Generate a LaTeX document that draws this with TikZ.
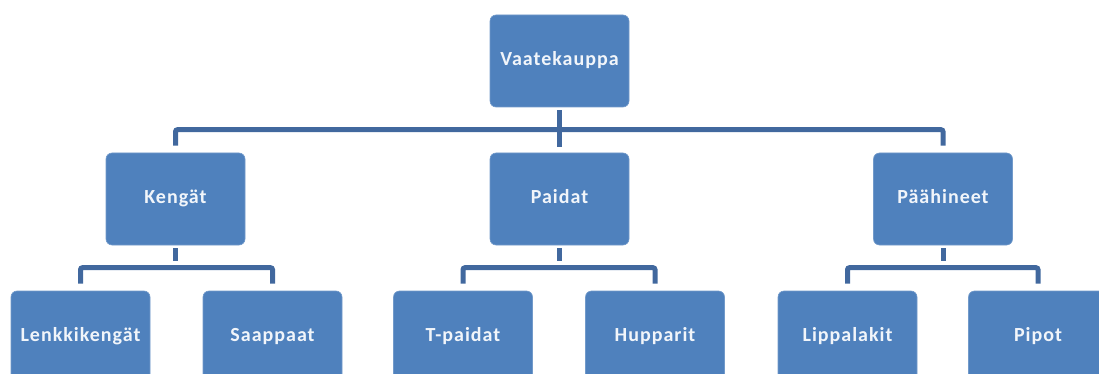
\documentclass[tikz,border=0pt]{standalone}
\usepackage{fontspec}
\setmainfont{Carlito}
\newfontfamily\boxfont[LetterSpace=5]{Carlito Bold}
\definecolor{boxblue}{RGB}{79,129,189}
\definecolor{lineblue}{RGB}{65,104,158}
\begin{document}
\begin{tikzpicture}[x=1pt,y=-1pt,
	box/.style={fill=boxblue,draw=boxblue!80!white,line width=0.6pt,rounded corners=6pt,
		minimum width=139pt,minimum height=92pt,text=white!92!boxblue,
		font=\boxfont\fontsize{20}{24}\selectfont,inner sep=0pt,text height=14pt,text depth=5pt},
	conn/.style={draw=lineblue,line width=5pt,rounded corners=2pt,shorten <=7pt,shorten >=7pt}]
		\useasboundingbox (0,0) rectangle (1099,374);
		\clip (0,0) rectangle (1099,374);
		% boxes
		\node[box] (root) at (559.5,61) {Vaatekauppa};
		\node[box] (keng) at (175.5,199) {Kengät};
		\node[box] (paid) at (559.5,199) {Paidat};
		\node[box] (paah) at (943,199) {Päähineet};
		\node[box] (lenk) at (80.5,337) {Lenkkikengät};
		\node[box] (saap) at (272.5,337) {Saappaat};
		\node[box] (tpai) at (463,337) {T-paidat};
		\node[box] (hupp) at (655,337) {Hupparit};
		\node[box] (lipp) at (847.5,337) {Lippalakit};
		\node[box] (pipo) at (1038,337) {Pipot};
		% connectors
		\draw[conn,shorten <=3pt,shorten >=6pt] (root) -- (paid);
		\draw[conn] (keng.north) -- ++(0,-23) -| (paah.north);
		\draw[conn,shorten <=3pt] (keng) -- ++(0,69);
		\draw[conn] (lenk.north) -- ++(0,-23) -| (saap.north);
		\draw[conn,shorten <=3pt] (paid) -- ++(0,69);
		\draw[conn] (tpai.north) -- ++(0,-23) -| (hupp.north);
		\draw[conn,shorten <=3pt] (paah) -- ++(0,69);
		\draw[conn] (lipp.north) -- ++(0,-23) -| (pipo.north);
\end{tikzpicture}
\end{document}
